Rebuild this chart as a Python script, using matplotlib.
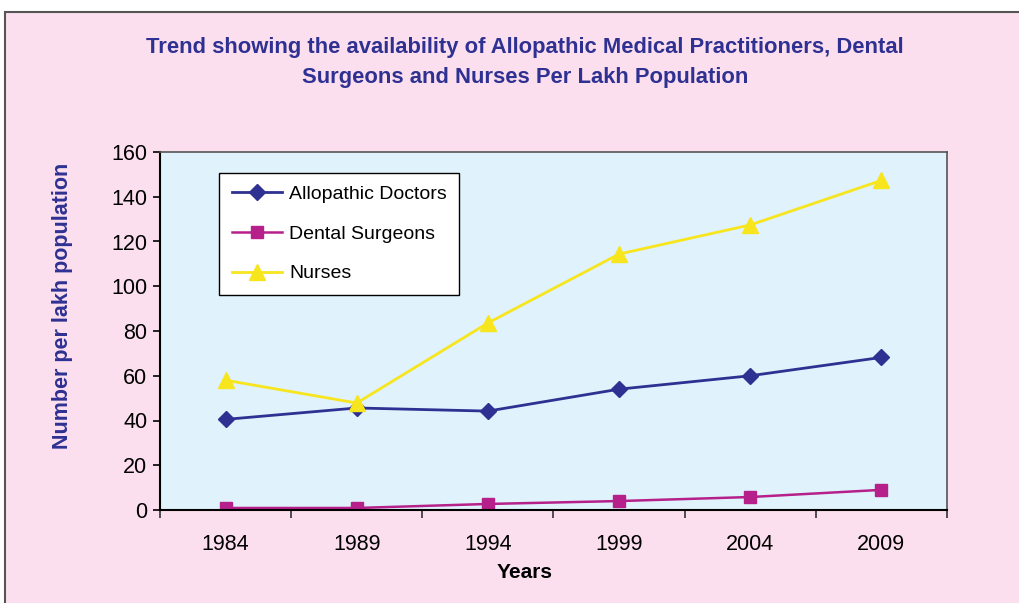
import matplotlib.pyplot as plt
from matplotlib.patches import Rectangle

plt.rcParams['font.family'] = ['Liberation Sans', 'DejaVu Sans']

years = ['1984', '1989', '1994', '1999', '2004', '2009']
doctors = [40.5, 45.6, 44.2, 54.0, 60.0, 68.2]
dental = [0.9, 0.9, 2.7, 4.0, 5.8, 9.0]
nurses = [58.0, 47.8, 83.6, 114.4, 127.4, 147.3]

fig = plt.figure(figsize=(10.2, 6.03), dpi=100)
fig.patch.set_facecolor('white')
# pink panel with dark frame
fig.patches.append(Rectangle((5 / 1020, -0.1), 1.1, 1.1 - 12 / 603, transform=fig.transFigure,
                             facecolor='#FCDFEE', edgecolor='#555555', linewidth=1.5, zorder=-1))

ax = fig.add_axes([160 / 1020, 1 - 510 / 603, 787 / 1020, 358 / 603])
ax.set_facecolor('#E0F2FC')

x = list(range(len(years)))
ax.plot(x, doctors, color='#2E3192', marker='D', markersize=8, linewidth=2, label='Allopathic Doctors')
ax.plot(x, dental, color='#B5208A', marker='s', markersize=9, linewidth=1.8, label='Dental Surgeons')
ax.plot(x, nurses, color='#F7E51E', marker='^', markersize=11, linewidth=2, label='Nurses')

ax.set_xlim(-0.5, len(years) - 0.5)
ax.set_ylim(0, 160)
ax.set_yticks(range(0, 161, 20))
ax.set_xticks(x)
ax.set_xticklabels(years, fontsize=15.5)
ax.tick_params(axis='x', length=0, pad=17)
ax.set_xticks([i - 0.5 for i in range(len(years) + 1)], minor=True)
ax.tick_params(axis='x', which='minor', length=6, width=1.2, direction='out', color='#333333')
ax.tick_params(axis='y', labelsize=15.5, length=5, width=1.2, direction='out', pad=4)

for side in ['left', 'bottom']:
    ax.spines[side].set_color('black')
    ax.spines[side].set_linewidth(1.5)
for side in ['top', 'right']:
    ax.spines[side].set_color('#555555')
    ax.spines[side].set_linewidth(1.2)

ax.set_xlabel('Years', fontsize=15, fontweight='bold', labelpad=0)
ax.xaxis.set_label_coords(0.463, -0.148)
ax.set_ylabel('Number per lakh population', fontsize=15.5, fontweight='bold', color='#2E3192')
ax.yaxis.set_label_coords(-0.11, 0.57)

leg = ax.legend(loc='upper left', bbox_to_anchor=(59 / 787, 1 - 21 / 358), fontsize=14,
                frameon=True, fancybox=False, edgecolor='black', facecolor='white',
                framealpha=1, borderpad=0.65, labelspacing=1.13, handlelength=2.6,
                handletextpad=0.35, borderaxespad=0)
leg.get_frame().set_linewidth(1.0)

fig.text(525 / 1020, 1 - 47 / 603, 'Trend showing the availability of Allopathic Medical Practitioners, Dental',
         ha='center', va='center', fontsize=15.8, fontweight='bold', color='#2E3192')
fig.text(525 / 1020, 1 - 77 / 603, 'Surgeons and Nurses Per Lakh Population',
         ha='center', va='center', fontsize=15.8, fontweight='bold', color='#2E3192')

fig.savefig('out.png', dpi=100)
